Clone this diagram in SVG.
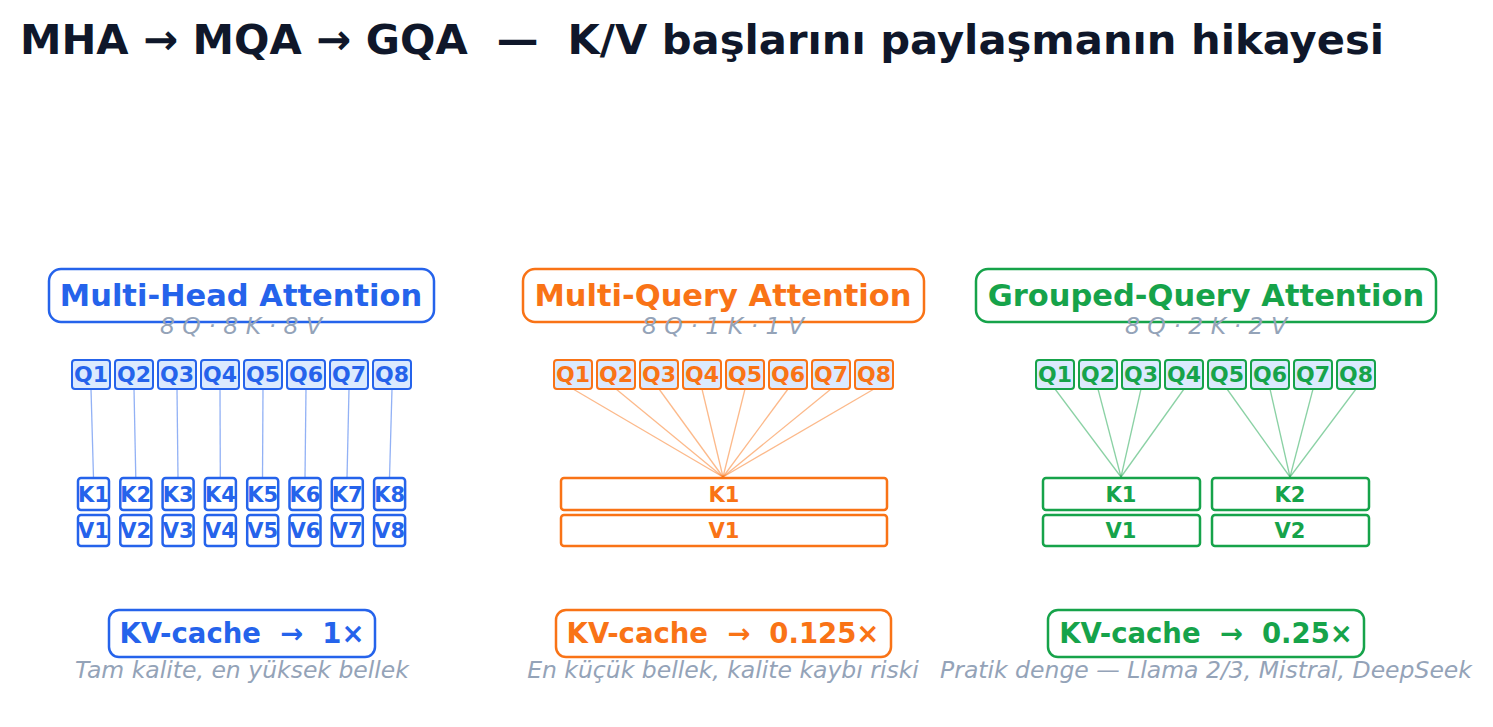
<svg xmlns="http://www.w3.org/2000/svg" width="1493" height="727" viewBox="0 0 1493 727">
<style>
text{font-family:"DejaVu Sans",sans-serif;white-space:pre}
.t{font-size:41.7px;font-weight:bold;fill:#0f172a}
.h{font-size:30.5px;font-weight:bold;text-anchor:middle}
.s{font-size:23.5px;font-style:italic;fill:#94a3b8;text-anchor:middle}
.q{font-size:22px;font-weight:bold;text-anchor:middle}
.k{font-size:21px;font-weight:bold;text-anchor:middle}
.c{font-size:27.5px;font-weight:bold;text-anchor:middle}
.b{stroke:#2563eb;fill:#2563eb}.o{stroke:#f97316;fill:#f97316}.g{stroke:#16a34a;fill:#16a34a}
.box{fill:#fff;stroke-width:2.5}
.qb{fill:#dbeafe;stroke-width:2}
.kb{fill:#fff;stroke-width:2.5}
text.b,text.o,text.g{stroke:none}
</style>
<text class="t" x="20" y="54" xml:space="preserve">MHA → MQA → GQA  —  K/V başlarını paylaşmanın hikayesi</text>
<g id="connectors" stroke-width="1.3">
<g stroke="#2563eb" stroke-opacity="0.5">
<line x1="91" y1="389" x2="93.5" y2="478"/><line x1="134" y1="389" x2="135.8" y2="478"/><line x1="177" y1="389" x2="178" y2="478"/><line x1="220" y1="389" x2="220.3" y2="478"/><line x1="263" y1="389" x2="262.5" y2="478"/><line x1="306" y1="389" x2="305" y2="478"/><line x1="349" y1="389" x2="347" y2="478"/><line x1="392" y1="389" x2="389.5" y2="478"/>
</g>
<g stroke="#f97316" stroke-opacity="0.5">
<line x1="573" y1="389" x2="723" y2="477"/><line x1="616" y1="389" x2="723" y2="477"/><line x1="659" y1="389" x2="723" y2="477"/><line x1="702" y1="389" x2="723" y2="477"/><line x1="745" y1="389" x2="723" y2="477"/><line x1="788" y1="389" x2="723" y2="477"/><line x1="831" y1="389" x2="723" y2="477"/><line x1="874" y1="389" x2="723" y2="477"/>
</g>
<g stroke="#16a34a" stroke-opacity="0.5">
<line x1="1055" y1="389" x2="1121" y2="477"/><line x1="1098" y1="389" x2="1121" y2="477"/><line x1="1141" y1="389" x2="1121" y2="477"/><line x1="1184" y1="389" x2="1121" y2="477"/>
<line x1="1227" y1="389" x2="1290" y2="477"/><line x1="1270" y1="389" x2="1290" y2="477"/><line x1="1313" y1="389" x2="1290" y2="477"/><line x1="1356" y1="389" x2="1290" y2="477"/>
</g>
</g>
<g id="mha">
<rect class="box b" x="49" y="269" width="385" height="53" rx="12"/>
<text class="h b" x="241" y="306">Multi-Head Attention</text>
<text class="s" x="241" y="334" xml:space="preserve">8 Q · 8 K · 8 V</text>
<g class="b">
<rect class="qb" x="72" y="360" width="38" height="29" rx="3"/><rect class="qb" x="115" y="360" width="38" height="29" rx="3"/><rect class="qb" x="158" y="360" width="38" height="29" rx="3"/><rect class="qb" x="201" y="360" width="38" height="29" rx="3"/><rect class="qb" x="244" y="360" width="38" height="29" rx="3"/><rect class="qb" x="287" y="360" width="38" height="29" rx="3"/><rect class="qb" x="330" y="360" width="38" height="29" rx="3"/><rect class="qb" x="373" y="360" width="38" height="29" rx="3"/>
</g>
<text class="q b" x="91" y="382">Q1</text><text class="q b" x="134" y="382">Q2</text><text class="q b" x="177" y="382">Q3</text><text class="q b" x="220" y="382">Q4</text><text class="q b" x="263" y="382">Q5</text><text class="q b" x="306" y="382">Q6</text><text class="q b" x="349" y="382">Q7</text><text class="q b" x="392" y="382">Q8</text>
<g class="b">
<rect class="kb" x="78" y="478" width="31" height="32" rx="3"/><rect class="kb" x="120.3" y="478" width="31" height="32" rx="3"/><rect class="kb" x="162.6" y="478" width="31" height="32" rx="3"/><rect class="kb" x="204.9" y="478" width="31" height="32" rx="3"/><rect class="kb" x="247.2" y="478" width="31" height="32" rx="3"/><rect class="kb" x="289.5" y="478" width="31" height="32" rx="3"/><rect class="kb" x="331.8" y="478" width="31" height="32" rx="3"/><rect class="kb" x="374.1" y="478" width="31" height="32" rx="3"/>
<rect class="kb" x="78" y="515" width="31" height="31" rx="3"/><rect class="kb" x="120.3" y="515" width="31" height="31" rx="3"/><rect class="kb" x="162.6" y="515" width="31" height="31" rx="3"/><rect class="kb" x="204.9" y="515" width="31" height="31" rx="3"/><rect class="kb" x="247.2" y="515" width="31" height="31" rx="3"/><rect class="kb" x="289.5" y="515" width="31" height="31" rx="3"/><rect class="kb" x="331.8" y="515" width="31" height="31" rx="3"/><rect class="kb" x="374.1" y="515" width="31" height="31" rx="3"/>
</g>
<text class="k b" x="93.5" y="502">K1</text><text class="k b" x="135.8" y="502">K2</text><text class="k b" x="178.1" y="502">K3</text><text class="k b" x="220.4" y="502">K4</text><text class="k b" x="262.7" y="502">K5</text><text class="k b" x="305" y="502">K6</text><text class="k b" x="347.3" y="502">K7</text><text class="k b" x="389.6" y="502">K8</text>
<text class="k b" x="93.5" y="538">V1</text><text class="k b" x="135.8" y="538">V2</text><text class="k b" x="178.1" y="538">V3</text><text class="k b" x="220.4" y="538">V4</text><text class="k b" x="262.7" y="538">V5</text><text class="k b" x="305" y="538">V6</text><text class="k b" x="347.3" y="538">V7</text><text class="k b" x="389.6" y="538">V8</text>
<rect class="box b" x="109" y="610" width="266" height="47" rx="10"/>
<text class="c b" x="242" y="643" xml:space="preserve">KV-cache  →  1×</text>
<text class="s" x="242" y="678">Tam kalite, en yüksek bellek</text>
</g>
<g id="mqa">
<rect class="box o" x="523" y="269" width="401" height="53" rx="12"/>
<text class="h o" x="723" y="306">Multi-Query Attention</text>
<text class="s" x="723" y="334" xml:space="preserve">8 Q · 1 K · 1 V</text>
<g class="o">
<rect class="qb" x="554" y="360" width="38" height="29" rx="3"/><rect class="qb" x="597" y="360" width="38" height="29" rx="3"/><rect class="qb" x="640" y="360" width="38" height="29" rx="3"/><rect class="qb" x="683" y="360" width="38" height="29" rx="3"/><rect class="qb" x="726" y="360" width="38" height="29" rx="3"/><rect class="qb" x="769" y="360" width="38" height="29" rx="3"/><rect class="qb" x="812" y="360" width="38" height="29" rx="3"/><rect class="qb" x="855" y="360" width="38" height="29" rx="3"/>
<rect class="kb" x="561" y="478" width="326" height="32" rx="3"/>
<rect class="kb" x="561" y="515" width="326" height="31" rx="3"/>
</g>
<text class="q o" x="573" y="382">Q1</text><text class="q o" x="616" y="382">Q2</text><text class="q o" x="659" y="382">Q3</text><text class="q o" x="702" y="382">Q4</text><text class="q o" x="745" y="382">Q5</text><text class="q o" x="788" y="382">Q6</text><text class="q o" x="831" y="382">Q7</text><text class="q o" x="874" y="382">Q8</text>
<text class="k o" x="724" y="502">K1</text><text class="k o" x="724" y="538">V1</text>
<rect class="box o" x="556" y="610" width="335" height="47" rx="10"/>
<text class="c o" x="723" y="643" xml:space="preserve">KV-cache  →  0.125×</text>
<text class="s" x="723" y="678">En küçük bellek, kalite kaybı riski</text>
</g>
<g id="gqa">
<rect class="box g" x="976" y="269" width="460" height="53" rx="12"/>
<text class="h g" x="1206" y="306">Grouped-Query Attention</text>
<text class="s" x="1206" y="334" xml:space="preserve">8 Q · 2 K · 2 V</text>
<g class="g">
<rect class="qb" x="1036" y="360" width="38" height="29" rx="3"/><rect class="qb" x="1079" y="360" width="38" height="29" rx="3"/><rect class="qb" x="1122" y="360" width="38" height="29" rx="3"/><rect class="qb" x="1165" y="360" width="38" height="29" rx="3"/><rect class="qb" x="1208" y="360" width="38" height="29" rx="3"/><rect class="qb" x="1251" y="360" width="38" height="29" rx="3"/><rect class="qb" x="1294" y="360" width="38" height="29" rx="3"/><rect class="qb" x="1337" y="360" width="38" height="29" rx="3"/>
<rect class="kb" x="1043" y="478" width="157" height="32" rx="3"/><rect class="kb" x="1212" y="478" width="157" height="32" rx="3"/>
<rect class="kb" x="1043" y="515" width="157" height="31" rx="3"/><rect class="kb" x="1212" y="515" width="157" height="31" rx="3"/>
</g>
<text class="q g" x="1055" y="382">Q1</text><text class="q g" x="1098" y="382">Q2</text><text class="q g" x="1141" y="382">Q3</text><text class="q g" x="1184" y="382">Q4</text><text class="q g" x="1227" y="382">Q5</text><text class="q g" x="1270" y="382">Q6</text><text class="q g" x="1313" y="382">Q7</text><text class="q g" x="1356" y="382">Q8</text>
<text class="k g" x="1121" y="502">K1</text><text class="k g" x="1290" y="502">K2</text><text class="k g" x="1121" y="538">V1</text><text class="k g" x="1290" y="538">V2</text>
<rect class="box g" x="1048" y="610" width="316" height="47" rx="10"/>
<text class="c g" x="1206" y="643" xml:space="preserve">KV-cache  →  0.25×</text>
<text class="s" x="1206" y="678">Pratik denge — Llama 2/3, Mistral, DeepSeek</text>
</g>
</svg>
